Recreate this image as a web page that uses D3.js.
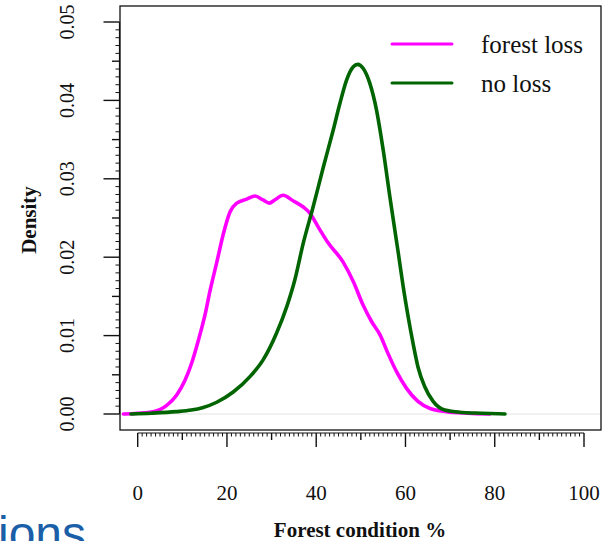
<!DOCTYPE html>
<html lang="en">
<head>
    <meta charset="UTF-8">
    <title>Forest condition density</title>
    <script src="https://d3js.org/d3.v7.min.js"></script>
    <style>
        body { margin: 0; background: #fff; overflow: hidden; }
        svg { display: block; }
    </style>
</head>
<body>
    <svg id="chart" width="615" height="541"></svg>
    <script>
        // density curve: forest condition % vs density
        var lossX = [-3.2, 0, 3.5, 6.5, 8.7, 10.6, 12.1, 13.6, 15.1, 16.2, 17.7, 19.2, 20.7, 22.2, 24.4, 26.3, 28.1, 29.5, 30.7, 32.6, 34.8, 37.1, 38.6, 40.4, 42.7, 46.0, 48.3, 50.5, 52.4, 54.3, 56.1, 58.0, 60.2, 62.8, 65.5, 69.2, 74, 78.9];
        var lossY = [0.0000, 0.0001, 0.0003, 0.0011, 0.0024, 0.0043, 0.0065, 0.0094, 0.0127, 0.0157, 0.0193, 0.0230, 0.0258, 0.0269, 0.0274, 0.0278, 0.0273, 0.0269, 0.0273, 0.0279, 0.0272, 0.0264, 0.0256, 0.0239, 0.0218, 0.0194, 0.0169, 0.0139, 0.0118, 0.0101, 0.0077, 0.0054, 0.0033, 0.0016, 0.0007, 0.0003, 0.0001, 0.0000];

        var noLossX = [-1.5, 3, 8.7, 12, 14.5, 17.7, 21.4, 25.2, 28.1, 31.1, 33.4, 35.2, 37.1, 39.3, 41.6, 43.8, 45.3, 46.8, 48.3, 49.3, 50.5, 52.0, 53.5, 55.0, 56.5, 58.4, 59.5, 60.6, 61.7, 62.8, 64.3, 66.2, 68.8, 72.9, 77, 82.3];
        var noLossY = [0.0000, 0.0001, 0.0003, 0.0005, 0.0008, 0.0015, 0.0028, 0.0048, 0.0069, 0.0103, 0.0137, 0.0171, 0.0218, 0.0264, 0.0315, 0.0362, 0.0396, 0.0426, 0.0443, 0.0446, 0.0441, 0.0422, 0.0388, 0.0337, 0.0277, 0.0205, 0.0162, 0.0124, 0.0090, 0.0060, 0.0035, 0.0016, 0.0005, 0.0002, 0.0001, 0.0000];

        var xTicks = [0, 20, 40, 60, 80, 100];
        var yTicks = [0, 0.01, 0.02, 0.03, 0.04, 0.05];
        var seriesNames = ["forest loss", "no loss"];
        var seriesColors = ["#ff00ff", "#006400"];

        var svg = d3.select("#chart");
        var serif = "'Liberation Serif', 'Times New Roman', serif";

        var x = d3.scaleLinear().domain([0, 100]).range([137.7, 584]);
        var y = d3.scaleLinear().domain([0, 0.05]).range([414, 22]);

        // plot box
        var box = { left: 120, right: 601, top: 6, bottom: 430 };

        // zero line like R's density plot
        svg.append("line")
            .attr("x1", box.left).attr("x2", box.right)
            .attr("y1", y(0)).attr("y2", y(0))
            .attr("stroke", "#e4e4e4").attr("stroke-width", 1.2);

        var line = d3.line()
            .x(function (d) { return x(d[0]); })
            .y(function (d) { return y(d[1]); })
            .curve(d3.curveMonotoneX);

        var series = [
            d3.zip(lossX, lossY),
            d3.zip(noLossX, noLossY)
        ];

        svg.selectAll("path.curve")
            .data(series)
            .enter().append("path")
            .attr("class", "curve")
            .attr("d", line)
            .attr("fill", "none")
            .attr("stroke", function (d, i) { return seriesColors[i]; })
            .attr("stroke-width", 3.6)
            .attr("stroke-linejoin", "round")
            .attr("stroke-linecap", "round");

        svg.append("rect")
            .attr("x", box.left).attr("y", box.top)
            .attr("width", box.right - box.left).attr("height", box.bottom - box.top)
            .attr("fill", "none").attr("stroke", "#111").attr("stroke-width", 1.3);

        // x axis (R style, detached a little below the box)
        var xAxisY = 433;
        var gx = svg.append("g").attr("stroke", "#111");
        gx.append("line")
            .attr("x1", x(0)).attr("x2", x(100))
            .attr("y1", xAxisY).attr("y2", xAxisY).attr("stroke-width", 1.2);
        gx.selectAll("line.tick")
            .data(d3.range(0, 101, 1))
            .enter().append("line")
            .attr("class", "tick")
            .attr("x1", function (d) { return x(d); })
            .attr("x2", function (d) { return x(d); })
            .attr("y1", xAxisY)
            .attr("y2", function (d) { return xAxisY + (d % 20 === 0 ? 14 : d % 10 === 0 ? 7 : 3.5); })
            .attr("stroke-width", function (d) { return d % 10 === 0 ? 1.4 : 1; });

        svg.selectAll("text.xlab")
            .data(xTicks)
            .enter().append("text")
            .attr("class", "xlab")
            .attr("x", function (d) { return x(d); })
            .attr("y", 500)
            .attr("text-anchor", "middle")
            .attr("font-family", serif)
            .attr("font-size", 21)
            .attr("fill", "#111")
            .text(function (d) { return d; });

        // y axis
        var yAxisX = 119.5;
        var gy = svg.append("g").attr("stroke", "#111");
        gy.append("line")
            .attr("x1", yAxisX).attr("x2", yAxisX)
            .attr("y1", y(0)).attr("y2", y(0.05)).attr("stroke-width", 1.2);
        gy.selectAll("line.tick")
            .data(d3.range(0, 51, 1))
            .enter().append("line")
            .attr("class", "tick")
            .attr("y1", function (d) { return y(d / 1000); })
            .attr("y2", function (d) { return y(d / 1000); })
            .attr("x1", yAxisX)
            .attr("x2", function (d) { return yAxisX - (d % 10 === 0 ? 16 : d % 5 === 0 ? 7.5 : 4); })
            .attr("stroke-width", function (d) { return d % 5 === 0 ? 1.4 : 1; });

        svg.selectAll("text.ylab")
            .data(yTicks)
            .enter().append("text")
            .attr("class", "ylab")
            .attr("transform", function (d) { return "translate(74," + y(d) + ") rotate(-90)"; })
            .attr("text-anchor", "middle")
            .attr("font-family", serif)
            .attr("font-size", 20)
            .attr("fill", "#111")
            .text(function (d) { return d.toFixed(2); });

        // axis titles
        svg.append("text")
            .attr("x", 360).attr("y", 537)
            .attr("text-anchor", "middle")
            .attr("font-family", serif)
            .attr("font-weight", "bold")
            .attr("font-size", 21)
            .attr("fill", "#111")
            .text("Forest condition %");

        svg.append("text")
            .attr("transform", "translate(36,220) rotate(-90)")
            .attr("text-anchor", "middle")
            .attr("font-family", serif)
            .attr("font-weight", "bold")
            .attr("font-size", 21)
            .attr("fill", "#111")
            .text("Density");

        // legend
        var legend = svg.selectAll("g.legend")
            .data(seriesNames)
            .enter().append("g")
            .attr("class", "legend")
            .attr("transform", function (d, i) { return "translate(392," + (44 + i * 39) + ")"; });
        legend.append("line")
            .attr("x1", 0).attr("x2", 60)
            .attr("stroke", function (d, i) { return seriesColors[i]; })
            .attr("stroke-width", 3)
            .attr("stroke-linecap", "round");
        legend.append("text")
            .attr("x", 89).attr("y", 9)
            .attr("font-family", serif)
            .attr("font-size", 25)
            .attr("fill", "#111")
            .text(function (d) { return d; });

        // slide text cut off at the bottom left, as in the source picture
        svg.append("text")
            .attr("x", -2).attr("y", 550)
            .attr("font-family", "'Liberation Sans', Arial, sans-serif")
            .attr("font-size", 48)
            .attr("fill", "#1a5fa8")
            .text("ions");
    </script>
</body>
</html>
